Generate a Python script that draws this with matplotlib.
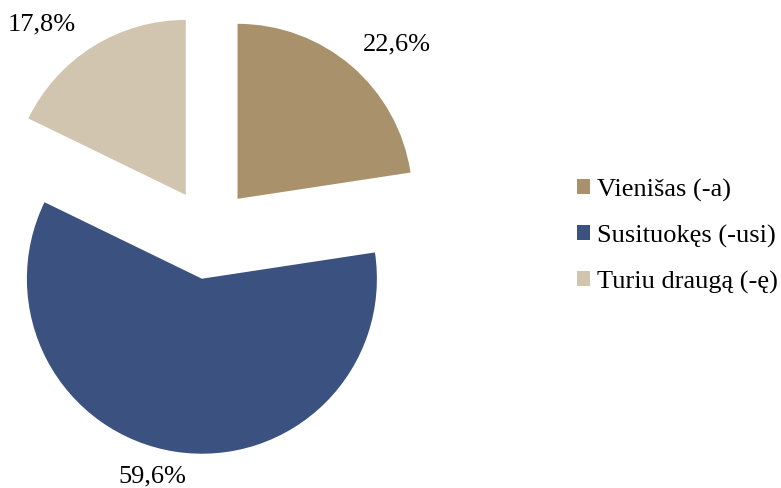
import matplotlib.pyplot as plt

labels = ['Vienišas (-a)', 'Susituokęs (-usi)', 'Turiu draugą (-ę)']
values = [22.6, 59.6, 17.8]
colors = ['#A8916B', '#3B5180', '#D1C5AF']

plt.rcParams['font.family'] = ['Liberation Serif', 'DejaVu Serif']

fig = plt.figure(figsize=(7.81, 4.89), dpi=100)
ax = fig.add_axes([0, 0, 1, 1])

# pie in pixel-like units so the layout is easy to line up
r = 175
explode = [0.25 * r, 0.27 * r, 0.25 * r]
wedges, texts, autotexts = ax.pie(values, colors=colors, startangle=90, counterclock=False,
                                  explode=explode, radius=r, center=(209, 256),
                                  autopct=lambda p: ('%.1f%%' % p).replace('.', ','),
                                  textprops={'fontsize': 19})
# label positions as Excel placed them
label_pos = [(397, 445), (152, 13), (42, 465)]
for t, p in zip(autotexts, label_pos):
    t.set_position(p)
    t.set_color('black')

ax.set_xlim(0, 781)
ax.set_ylim(0, 489)
ax.set_aspect('equal')
ax.axis('off')

ax.legend(wedges, labels, loc='center left', bbox_to_anchor=(0.708, 0.516), frameon=False,
          fontsize=19, handlelength=0.52, handleheight=0.52, handletextpad=0.25, labelspacing=0.87)

fig.savefig('out.png', dpi=100)
